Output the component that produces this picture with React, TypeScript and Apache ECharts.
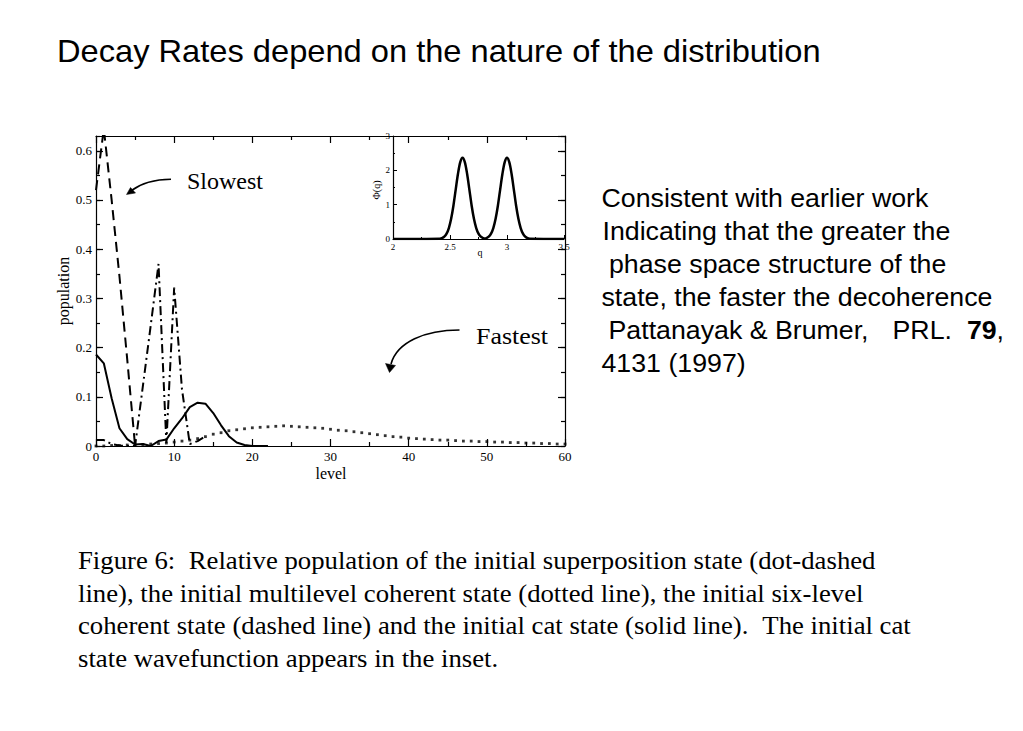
import React, { useEffect, useRef } from "react";
import * as echarts from "echarts";

// ---------- data ----------
// six-level coherent state (dashed), levels 0..5
const sixLevelStart = 0;
const sixLevelPop = [0.52, 0.645, 0.5, 0.345, 0.175, 0.0];

// superposition state (dot-dashed), levels 0..14
const superStart = 0;
const superPop = [0.012, 0.012, 0.004, 0.001, 0.0, 0.0, 0.122, 0.245, 0.37, 0.006, 0.322, 0.115, 0.004, 0.01, 0.02];

// cat state (solid), levels 0..22
const catStart = 0;
const catPop = [
  0.186, 0.168, 0.097, 0.036, 0.014, 0.003, 0.004, 0.0, 0.01, 0.013, 0.036, 0.056,
  0.079, 0.088, 0.086, 0.067, 0.042, 0.02, 0.007, 0.002, 0.0, 0.0, 0.0,
];

// multilevel coherent state (dotted), levels 0..60
const multiStart = 0;
const multiPop = [
  0.0, 0.0, 0.001, 0.001, 0.002, 0.002, 0.003, 0.004, 0.005, 0.006, 0.008, 0.01, 0.012,
  0.015, 0.019, 0.024, 0.027, 0.031, 0.033, 0.035, 0.037, 0.038, 0.039, 0.04, 0.041,
  0.04, 0.039, 0.038, 0.037, 0.036, 0.034, 0.032, 0.031, 0.029, 0.027, 0.025, 0.023,
  0.021, 0.019, 0.018, 0.016, 0.015, 0.014, 0.013, 0.012, 0.012, 0.011, 0.01, 0.01,
  0.009, 0.009, 0.008, 0.008, 0.007, 0.007, 0.006, 0.006, 0.005, 0.005, 0.004, 0.004,
];

// inset: cat state wavefunction Φ(q)
const insetQ = [
  2.0, 2.41, 2.43, 2.45, 2.47, 2.49, 2.51, 2.53, 2.55, 2.57, 2.59, 2.61, 2.63, 2.65, 2.67,
  2.69, 2.71, 2.73, 2.75, 2.77, 2.79, 2.805, 2.82, 2.84, 2.86, 2.88, 2.9, 2.92, 2.94, 2.96,
  2.98, 3.0, 3.02, 3.04, 3.06, 3.08, 3.1, 3.12, 3.14, 3.16, 3.18, 3.2, 3.5,
];
const insetPhi = [
  0.0, 0.01, 0.026, 0.068, 0.156, 0.32, 0.59, 0.97, 1.44, 1.9, 2.24, 2.37, 2.24, 1.9, 1.44,
  0.97, 0.59, 0.32, 0.156, 0.068, 0.026, 0.015, 0.026, 0.068, 0.156, 0.32, 0.59, 0.97, 1.44,
  1.9, 2.24, 2.37, 2.24, 1.9, 1.44, 0.97, 0.59, 0.32, 0.156, 0.068, 0.026, 0.01, 0.0,
];

const titleText = "Decay Rates depend on the nature of the distribution";
const noteLines = [
  "Consistent with earlier work",
  "Indicating that the greater the",
  "phase space structure of the",
  "state, the faster the decoherence",
];
const captionLines = [
  "line), the initial multilevel coherent state (dotted line), the initial six-level",
  "state wavefunction appears in the inset.",
];

// ---------- helpers ----------
const black = "#000";
const serif = "'Liberation Serif', 'Times New Roman', serif";
const sans = "'Liberation Sans', Arial, Helvetica, sans-serif";

const pairs = (start: number, vals: number[]) => vals.map((v, i) => [start + i, v]);

const txt = (
  x: number,
  y: number,
  text: string,
  font: string,
  extra: any = {},
  align = "left"
) => ({
  type: "text",
  x,
  y,
  z: 10,
  ...extra,
  style: {
    text,
    font,
    fill: black,
    align,
    verticalAlign: "middle",
    textAlign: align,
    textVerticalAlign: "middle",
  },
});

const lineW = 1.2;

const mainX = (position: string, showLabel: boolean) => ({
  gridIndex: 0,
  type: "value",
  position,
  min: 0,
  max: 60,
  interval: 10,
  axisLine: { show: true, onZero: false, lineStyle: { color: black, width: lineW } },
  axisTick: { show: true, inside: true, length: 7, lineStyle: { color: black, width: lineW } },
  minorTick: { show: true, splitNumber: 2, length: 4, lineStyle: { color: black, width: lineW } },
  axisLabel: { show: showLabel, color: black, fontFamily: serif, fontSize: 13, margin: 4 },
  splitLine: { show: false },
  minorSplitLine: { show: false },
});

const mainYMajor = (position: string, showLabel: boolean) => ({
  gridIndex: 0,
  type: "value",
  position,
  min: 0,
  max: 0.63,
  interval: 0.1,
  axisLine: { show: true, onZero: false, lineStyle: { color: black, width: lineW } },
  axisTick: { show: true, inside: true, length: 7, lineStyle: { color: black, width: lineW } },
  axisLabel: {
    show: showLabel,
    showMaxLabel: false,
    color: black,
    fontFamily: serif,
    fontSize: 13,
    margin: 4,
  },
  splitLine: { show: false },
});

const mainYMinor = (position: string) => ({
  gridIndex: 0,
  type: "value",
  position,
  min: 0,
  max: 0.63,
  interval: 0.05,
  axisLine: { show: false, onZero: false },
  axisTick: { show: true, inside: true, length: 4, lineStyle: { color: black, width: lineW } },
  axisLabel: { show: false },
  splitLine: { show: false },
});

const sx = 1.07; // horizontal stretch of the slide text

const option: any = {
  animation: false,
  backgroundColor: "#fff",
  grid: [
    { left: 96, top: 136, width: 469, height: 310, containLabel: false },
    { left: 393, top: 136, width: 171, height: 103, containLabel: false },
  ],
  xAxis: [
    mainX("bottom", true),
    mainX("top", false),
    {
      gridIndex: 1,
      type: "value",
      position: "bottom",
      min: 2,
      max: 3.5,
      interval: 0.5,
      axisLine: { show: true, onZero: false, lineStyle: { color: black, width: lineW } },
      axisTick: { show: true, inside: true, length: 4, lineStyle: { color: black, width: 1 } },
      minorTick: { show: true, splitNumber: 2, length: 2, lineStyle: { color: black, width: 1 } },
      axisLabel: { color: black, fontFamily: serif, fontSize: 9, margin: 3 },
      splitLine: { show: false },
    },
  ],
  yAxis: [
    mainYMajor("left", true),
    mainYMajor("right", false),
    mainYMinor("left"),
    mainYMinor("right"),
    {
      gridIndex: 1,
      type: "value",
      position: "left",
      min: 0,
      max: 3,
      interval: 1,
      axisLine: { show: true, onZero: false, lineStyle: { color: black, width: lineW } },
      axisTick: { show: true, inside: true, length: 4, lineStyle: { color: black, width: 1 } },
      minorTick: { show: true, splitNumber: 2, length: 2, lineStyle: { color: black, width: 1 } },
      axisLabel: { color: black, fontFamily: serif, fontSize: 9, margin: 3 },
      splitLine: { show: false },
    },
  ],
  series: [
    {
      name: "six-level coherent state",
      type: "line",
      xAxisIndex: 0,
      yAxisIndex: 0,
      data: pairs(sixLevelStart, sixLevelPop),
      symbol: "none",
      lineStyle: { color: black, width: 2, type: [10, 6] },
    },
    {
      name: "superposition state",
      type: "line",
      xAxisIndex: 0,
      yAxisIndex: 0,
      data: pairs(superStart, superPop),
      symbol: "none",
      lineStyle: { color: black, width: 2, type: [9, 4, 2, 4] },
    },
    {
      name: "cat state",
      type: "line",
      xAxisIndex: 0,
      yAxisIndex: 0,
      data: pairs(catStart, catPop),
      symbol: "none",
      lineStyle: { color: black, width: 2 },
    },
    {
      name: "multilevel coherent state",
      type: "scatter",
      xAxisIndex: 0,
      yAxisIndex: 0,
      data: pairs(multiStart, multiPop),
      symbol: "rect",
      symbolSize: 2.8,
      itemStyle: { color: black },
    },
    {
      name: "inset",
      type: "line",
      xAxisIndex: 2,
      yAxisIndex: 4,
      data: insetQ.map((q, i) => [q, insetPhi[i]]),
      symbol: "none",
      smooth: 0.3,
      lineStyle: { color: black, width: 2.5 },
    },
  ],
  graphic: [
    txt(57, 51, titleText, `30.5px ${sans}`, { scaleX: sx }),
    txt(601.5, 198, noteLines[0], `25px ${sans}`, { scaleX: sx }),
    txt(602.5, 231, noteLines[1], `25px ${sans}`, { scaleX: sx }),
    txt(609, 264, noteLines[2], `25px ${sans}`, { scaleX: sx }),
    txt(601.5, 297, noteLines[3], `25px ${sans}`, { scaleX: sx }),
    txt(608.5, 330, "Pattanayak & Brumer,", `25px ${sans}`, { scaleX: sx }),
    txt(892.5, 330, "PRL.", `25px ${sans}`, { scaleX: sx }),
    txt(967, 330, "79", `bold 25px ${sans}`, { scaleX: sx }),
    txt(996.6, 330, ",", `25px ${sans}`, { scaleX: sx }),
    txt(601.5, 363, "4131 (1997)", `25px ${sans}`, { scaleX: sx }),

    txt(78, 561, "Figure 6:", `25px ${serif}`, { scaleX: sx }),
    txt(188.7, 561, "Relative population of the initial superposition state (dot-dashed", `25px ${serif}`, { scaleX: sx }),
    txt(78, 593.5, captionLines[0], `25px ${serif}`, { scaleX: sx }),
    txt(78, 626, "coherent state (dashed line) and the initial cat state (solid line).", `25px ${serif}`, { scaleX: sx }),
    txt(762.3, 626, "The initial cat", `25px ${serif}`, { scaleX: sx }),
    txt(78, 658.5, captionLines[1], `25px ${serif}`, { scaleX: sx }),

    txt(187, 180.5, "Slowest", `24px ${serif}`),
    txt(476, 335.5, "Fastest", `24px ${serif}`, { scaleX: 1.08 }),

    txt(63, 291, "population", `16px ${serif}`, { rotation: Math.PI / 2 }, "center"),
    txt(331, 473, "level", `16px ${serif}`, {}, "center"),
    txt(376, 190, "Φ(q)", `10px ${serif}`, { rotation: Math.PI / 2 }, "center"),
    txt(480, 252, "q", `10px ${serif}`, {}, "center"),

    {
      type: "bezierCurve",
      z: 10,
      shape: { x1: 171, y1: 179.3, cpx1: 155, cpy1: 179.5, cpx2: 141, cpy2: 183.5, x2: 131.5, y2: 190.5 },
      style: { stroke: black, lineWidth: 1.6, fill: null },
    },
    {
      type: "polygon",
      z: 10,
      shape: { points: [[126.5, 194.5], [130.5, 187.5], [135.5, 193]] },
      style: { fill: black, stroke: black, lineWidth: 0.5 },
    },
    {
      type: "bezierCurve",
      z: 10,
      shape: { x1: 459.5, y1: 330, cpx1: 425, cpy1: 330, cpx2: 397, cpy2: 342, x2: 391, y2: 364 },
      style: { stroke: black, lineWidth: 1.6, fill: null },
    },
    {
      type: "polygon",
      z: 10,
      shape: { points: [[389.5, 372.5], [385.5, 363.5], [395.5, 365.5]] },
      style: { fill: black, stroke: black, lineWidth: 0.5 },
    },
  ],
};

export default function App() {
  const ref = useRef<HTMLDivElement>(null);
  useEffect(() => {
    if (!ref.current) return;
    const chart = echarts.init(ref.current, null, { renderer: "svg" });
    chart.setOption(option);
    return () => chart.dispose();
  }, []);
  return (
    <div
      ref={ref}
      style={{ position: "fixed", left: 0, top: 0, width: 1023, height: 731, background: "#fff" }}
    />
  );
}
